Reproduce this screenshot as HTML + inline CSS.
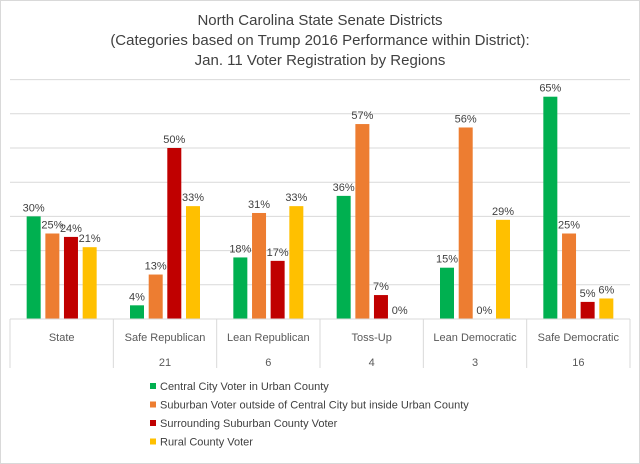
<!DOCTYPE html>
<html><head><meta charset="utf-8"><style>
body{margin:0;background:#fff}
svg{display:block;font-family:"Liberation Sans",sans-serif}
</style></head><body>
<svg id="c" width="640" height="464">
<rect x="0.5" y="0.5" width="639" height="463" fill="#fff" stroke="#d9d9d9"/>
<g fill="#404040" font-size="15" text-anchor="middle">
<text x="320" y="25">North Carolina State Senate Districts</text>
<text x="320" y="45">(Categories based on Trump 2016 Performance within District):</text>
<text x="320" y="65">Jan. 11 Voter Registration by Regions</text>
</g>
<g id="grid"></g><g id="bars"></g><g id="axis"></g><g id="legend"></g>
</svg>
<script>
const categories=["State","Safe Republican","Lean Republican","Toss-Up","Lean Democratic","Safe Democratic"];
const counts=["","21","6","4","3","16"];
const seriesNames=["Central City Voter in Urban County","Suburban Voter outside of Central City but inside Urban County","Surrounding Suburban County Voter","Rural County Voter"];
const central=[30,4,18,36,15,65];
const suburban=[25,13,31,57,56,25];
const surrounding=[24,50,17,7,0,5];
const rural=[21,33,33,0,29,6];
const gridTicks=[10,20,30,40,50,60,70];
const series=[central,suburban,surrounding,rural];
const colors=["#00b050","#ed7d31","#c00000","#ffc000"];
const NS="http://www.w3.org/2000/svg";
const x0=10,x1=630,base=319,pxPer=3.42;
const bw=(x1-x0)/categories.length;
const y=v=>base-v*pxPer;
function mk(t,a,p){const e=document.createElementNS(NS,t);for(const k in a)e.setAttribute(k,a[k]);p.appendChild(e);return e;}
const G=document.getElementById('grid'),B=document.getElementById('bars'),A=document.getElementById('axis'),L=document.getElementById('legend');
gridTicks.forEach(t=>{const l=mk('line',{x1:x0,x2:x1,y1:y(t),y2:y(t),stroke:'#d9d9d9'},G);

});
const ax=mk('line',{x1:x0,x2:x1,y1:base,y2:base,stroke:'#d9d9d9'},A);


for(let i=0;i<=categories.length;i++){const l=mk('line',{x1:x0+i*bw,x2:x0+i*bw,y1:base,y2:368,stroke:'#d9d9d9'},A);

}
const offs=[-28,-9.3,9.3,28];
categories.forEach((c,i)=>{const cx=x0+bw*(i+0.5);
const t=mk('text',{x:cx,y:341,'font-size':11,fill:'#595959','text-anchor':'middle'},A);t.textContent=c;


const n=mk('text',{x:cx,y:366,'font-size':11,fill:'#595959','text-anchor':'middle'},A);n.textContent=counts[i];


series.forEach((s,j)=>{const v=s[i];const bx=cx+offs[j]-7;
if(v>0){const r=mk('rect',{x:bx,y:y(v),width:14,height:base-y(v),fill:colors[j]},B);

}
const lb=mk('text',{x:cx+offs[j],y:y(v)-5,'font-size':11,fill:'#404040','text-anchor':'middle'},B);lb.textContent=v+'%';

});});
seriesNames.forEach((s,j)=>{const yy=387+j*18.5;
const r=mk('rect',{x:150,y:yy-4,width:6,height:6,fill:colors[j]},L);


const t=mk('text',{x:160,y:yy+3,'font-size':11,fill:'#404040'},L);t.textContent=s;

});
</script>
</body></html>
